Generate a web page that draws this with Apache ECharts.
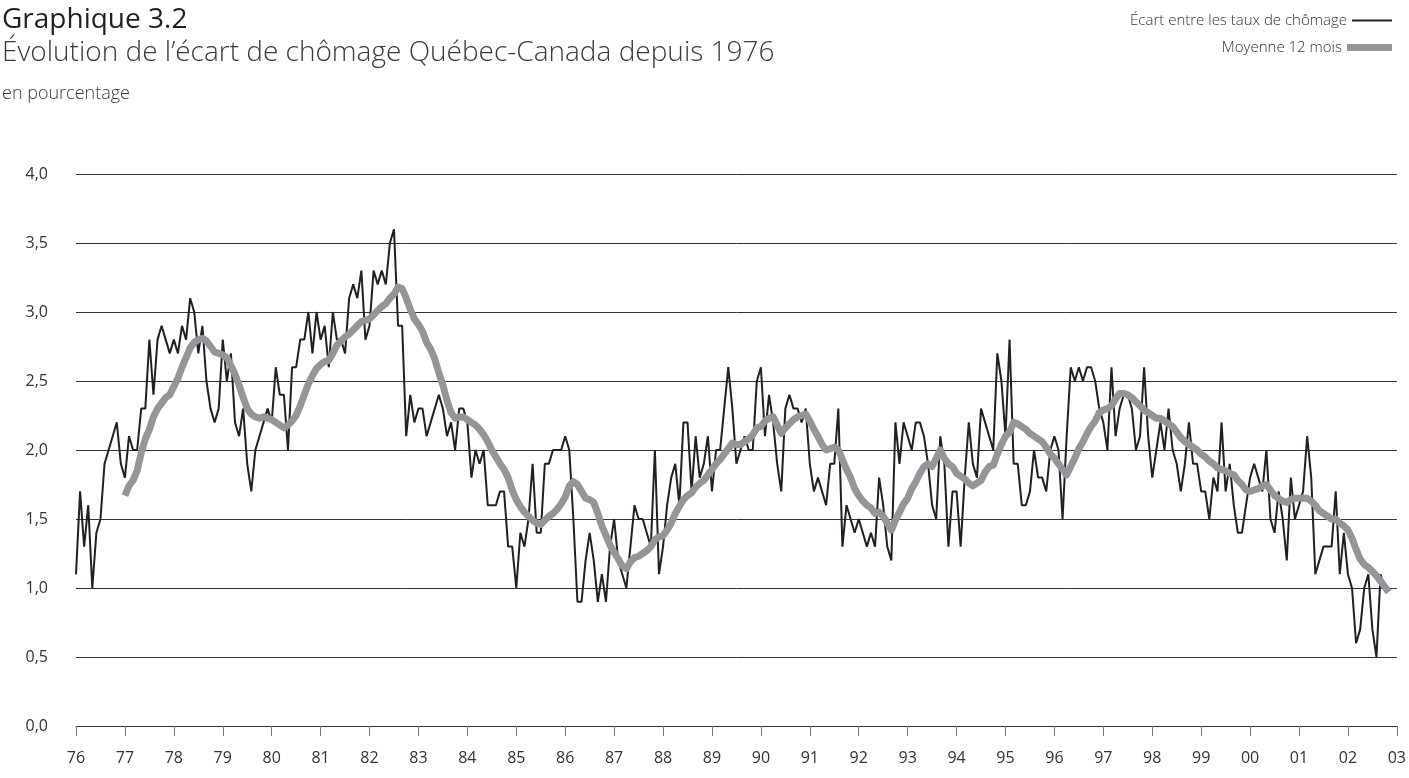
<!DOCTYPE html>
<html>
<head>
<meta charset="utf-8">
<title>Graphique 3.2</title>
<script src="https://cdn.jsdelivr.net/npm/echarts/dist/echarts.min.js"></script>
<style>
  html, body { margin: 0; padding: 0; background: #fff; }
  #chart { width: 1409px; height: 778px; }
</style>
</head>
<body>
<div id="chart"></div>
<script>
// first year of the monthly series, axis runs from Jan 1976 to Jan 2003
const startYear = 1976
const monthCount = 324
const yTicks = [0, 0.5, 1, 1.5, 2, 2.5, 3, 3.5, 4]

// écart de chômage Québec-Canada, monthly, Jan 1976 -> Oct 2002
const ecart = [
  1.1, 1.7, 1.3, 1.6, 1.0, 1.4, 1.5, 1.9, 2.0, 2.1, 2.2, 1.9, // 76
  1.8, 2.1, 2.0, 2.0, 2.3, 2.3, 2.8, 2.4, 2.8, 2.9, 2.8, 2.7, // 77
  2.8, 2.7, 2.9, 2.8, 3.1, 3.0, 2.7, 2.9, 2.5, 2.3, 2.2, 2.3, // 78
  2.8, 2.5, 2.7, 2.2, 2.1, 2.3, 1.9, 1.7, 2.0, 2.1, 2.2, 2.3, // 79
  2.2, 2.6, 2.4, 2.4, 2.0, 2.6, 2.6, 2.8, 2.8, 3.0, 2.7, 3.0, // 80
  2.8, 2.9, 2.6, 3.0, 2.8, 2.8, 2.7, 3.1, 3.2, 3.1, 3.3, 2.8, // 81
  2.9, 3.3, 3.2, 3.3, 3.2, 3.5, 3.6, 2.9, 2.9, 2.1, 2.4, 2.2, // 82
  2.3, 2.3, 2.1, 2.2, 2.3, 2.4, 2.3, 2.1, 2.2, 2.0, 2.3, 2.3, // 83
  2.2, 1.8, 2.0, 1.9, 2.0, 1.6, 1.6, 1.6, 1.7, 1.7, 1.3, 1.3, // 84
  1.0, 1.4, 1.3, 1.5, 1.9, 1.4, 1.4, 1.9, 1.9, 2.0, 2.0, 2.0, // 85
  2.1, 2.0, 1.5, 0.9, 0.9, 1.2, 1.4, 1.2, 0.9, 1.1, 0.9, 1.3, // 86
  1.5, 1.2, 1.1, 1.0, 1.3, 1.6, 1.5, 1.5, 1.4, 1.3, 2.0, 1.1, // 87
  1.3, 1.6, 1.8, 1.9, 1.6, 2.2, 2.2, 1.7, 2.1, 1.8, 1.9, 2.1, // 88
  1.7, 2.0, 2.0, 2.3, 2.6, 2.3, 1.9, 2.0, 2.1, 2.0, 2.0, 2.5, // 89
  2.6, 2.1, 2.4, 2.2, 1.9, 1.7, 2.3, 2.4, 2.3, 2.3, 2.2, 2.3, // 90
  1.9, 1.7, 1.8, 1.7, 1.6, 1.9, 1.9, 2.3, 1.3, 1.6, 1.5, 1.4, // 91
  1.5, 1.4, 1.3, 1.4, 1.3, 1.8, 1.6, 1.3, 1.2, 2.2, 1.9, 2.2, // 92
  2.1, 2.0, 2.2, 2.2, 2.1, 1.9, 1.6, 1.5, 2.1, 1.9, 1.3, 1.7, // 93
  1.7, 1.3, 1.8, 2.2, 1.9, 1.8, 2.3, 2.2, 2.1, 2.0, 2.7, 2.5, // 94
  2.1, 2.8, 1.9, 1.9, 1.6, 1.6, 1.7, 2.0, 1.8, 1.8, 1.7, 2.0, // 95
  2.1, 2.0, 1.5, 2.1, 2.6, 2.5, 2.6, 2.5, 2.6, 2.6, 2.5, 2.3, // 96
  2.2, 2.0, 2.6, 2.1, 2.3, 2.4, 2.4, 2.3, 2.0, 2.1, 2.6, 2.1, // 97
  1.8, 2.0, 2.2, 2.0, 2.3, 2.0, 1.9, 1.7, 1.9, 2.2, 1.9, 1.9, // 98
  1.7, 1.7, 1.5, 1.8, 1.7, 2.2, 1.7, 1.9, 1.6, 1.4, 1.4, 1.6, // 99
  1.8, 1.9, 1.8, 1.7, 2.0, 1.5, 1.4, 1.7, 1.5, 1.2, 1.8, 1.5, // 00
  1.6, 1.7, 2.1, 1.8, 1.1, 1.2, 1.3, 1.3, 1.3, 1.7, 1.1, 1.4, // 01
  1.1, 1.0, 0.6, 0.7, 1.0, 1.1, 0.7, 0.5, 1.1, 1.0            // 02
]

// moyenne 12 mois, starts Jan 1977
const moyenneStart = 12
const moyenne = [
  1.67, 1.74, 1.78, 1.85, 1.98, 2.08, 2.15, 2.24, 2.30, 2.34, 2.38, 2.40, // 77
  2.46, 2.52, 2.60, 2.67, 2.74, 2.78, 2.80, 2.81, 2.79, 2.75, 2.71, 2.70, // 78
  2.69, 2.67, 2.61, 2.55, 2.47, 2.38, 2.30, 2.26, 2.24, 2.23, 2.24, 2.23, // 79
  2.22, 2.20, 2.18, 2.16, 2.18, 2.21, 2.25, 2.32, 2.40, 2.48, 2.54, 2.59, // 80
  2.62, 2.64, 2.65, 2.70, 2.76, 2.79, 2.82, 2.84, 2.87, 2.90, 2.93, 2.94, // 81
  2.95, 2.98, 3.01, 3.04, 3.06, 3.10, 3.13, 3.18, 3.17, 3.10, 3.02, 2.95, // 82
  2.91, 2.86, 2.78, 2.73, 2.66, 2.56, 2.47, 2.36, 2.27, 2.23, 2.24, 2.24, // 83
  2.22, 2.20, 2.18, 2.15, 2.11, 2.06, 2.00, 1.95, 1.90, 1.86, 1.80, 1.71, // 84
  1.64, 1.59, 1.55, 1.52, 1.49, 1.47, 1.46, 1.49, 1.52, 1.54, 1.57, 1.61, // 85
  1.66, 1.74, 1.77, 1.75, 1.70, 1.65, 1.64, 1.62, 1.54, 1.45, 1.38, 1.31, // 86
  1.26, 1.21, 1.16, 1.14, 1.19, 1.22, 1.23, 1.25, 1.27, 1.30, 1.35, 1.37, // 87
  1.38, 1.42, 1.47, 1.54, 1.59, 1.64, 1.67, 1.69, 1.73, 1.76, 1.78, 1.82, // 88
  1.86, 1.90, 1.93, 1.97, 2.01, 2.05, 2.04, 2.04, 2.06, 2.08, 2.11, 2.16, // 89
  2.17, 2.21, 2.23, 2.24, 2.18, 2.12, 2.16, 2.19, 2.22, 2.24, 2.25, 2.26, // 90
  2.21, 2.15, 2.10, 2.04, 2.00, 2.01, 2.02, 2.00, 1.93, 1.86, 1.80, 1.72, // 91
  1.67, 1.63, 1.60, 1.58, 1.54, 1.55, 1.52, 1.47, 1.42, 1.49, 1.55, 1.61, // 92
  1.65, 1.72, 1.77, 1.83, 1.88, 1.90, 1.88, 1.94, 2.00, 1.94, 1.90, 1.88, // 93
  1.83, 1.81, 1.79, 1.76, 1.74, 1.76, 1.78, 1.84, 1.88, 1.89, 1.97, 2.04, // 94
  2.10, 2.13, 2.20, 2.19, 2.17, 2.15, 2.12, 2.10, 2.08, 2.06, 2.02, 1.97, // 95
  1.94, 1.90, 1.86, 1.82, 1.88, 1.94, 2.01, 2.06, 2.12, 2.17, 2.21, 2.27, // 96
  2.29, 2.30, 2.32, 2.37, 2.41, 2.41, 2.40, 2.38, 2.35, 2.32, 2.29, 2.27, // 97
  2.25, 2.23, 2.23, 2.21, 2.19, 2.17, 2.13, 2.09, 2.06, 2.04, 2.02, 2.00, // 98
  1.97, 1.95, 1.92, 1.90, 1.87, 1.86, 1.85, 1.83, 1.82, 1.78, 1.75, 1.71, // 99
  1.70, 1.71, 1.72, 1.74, 1.75, 1.71, 1.67, 1.65, 1.63, 1.62, 1.64, 1.65, // 00
  1.65, 1.65, 1.65, 1.63, 1.60, 1.56, 1.54, 1.52, 1.50, 1.50, 1.47, 1.45, // 01
  1.42, 1.36, 1.28, 1.21, 1.17, 1.15, 1.12, 1.09, 1.05, 1.01, 0.97        // 02
]

const font = '"Open Sans", "Noto Sans", sans-serif'
const chart = echarts.init(document.getElementById('chart'), null, { renderer: 'canvas' })

chart.setOption({
  animation: false,
  backgroundColor: '#fff',
  textStyle: { fontFamily: font },
  title: [
    {
      text: 'Graphique 3.2',
      left: -3,
      top: 1,
      textStyle: { fontSize: 28, fontWeight: 'normal', color: '#231f20', fontFamily: font }
    },
    {
      text: 'Évolution de l’écart de chômage Québec-Canada depuis 1976',
      left: -3,
      top: 34,
      textStyle: { fontSize: 28, fontWeight: 300, color: '#3a3a3a', fontFamily: font }
    },
    {
      text: 'en pourcentage',
      left: -3,
      top: 80,
      textStyle: { fontSize: 18, fontWeight: 300, color: '#3a3a3a', fontFamily: font }
    }
  ],
  legend: [
    {
      data: ['Écart entre les taux de chômage'],
      right: 12,
      top: 8,
      align: 'right',
      icon: 'rect',
      itemWidth: 40,
      itemHeight: 2,
      textStyle: { fontSize: 15, color: '#333', fontWeight: 300 }
    },
    {
      data: ['Moyenne 12 mois'],
      right: 12,
      top: 35,
      align: 'right',
      icon: 'rect',
      itemWidth: 45,
      itemHeight: 7,
      textStyle: { fontSize: 15, color: '#333', fontWeight: 300 }
    }
  ],
  grid: {
    left: 76,
    right: 9,
    top: 174,
    bottom: 52,
    containLabel: false
  },
  xAxis: {
    type: 'value',
    min: 0,
    max: monthCount,
    interval: 12,
    axisLine: { show: true, lineStyle: { color: '#333', width: 1 } },
    axisTick: { show: true, length: 10, lineStyle: { color: '#777' } },
    axisLabel: {
      margin: 24,
      fontSize: 16,
      color: '#333',
      formatter: v => String((startYear + v / 12) % 100).padStart(2, '0')
    },
    splitLine: { show: false }
  },
  yAxis: {
    type: 'value',
    min: yTicks[0],
    max: yTicks[yTicks.length - 1],
    interval: 0.5,
    axisLine: { show: false },
    axisTick: { show: false },
    axisLabel: {
      margin: 28,
      fontSize: 16,
      color: '#333',
      formatter: v => v.toFixed(1).replace('.', ',')
    },
    splitLine: { lineStyle: { color: '#333', width: 1 } }
  },
  series: [
    {
      name: 'Écart entre les taux de chômage',
      type: 'line',
      data: ecart.map((v, i) => [i, v]),
      showSymbol: false,
      color: '#231f20',
      lineStyle: { color: '#231f20', width: 2 },
      z: 2
    },
    {
      name: 'Moyenne 12 mois',
      type: 'line',
      data: moyenne.map((v, i) => [i + moyenneStart, v]),
      showSymbol: false,
      color: '#939598',
      lineStyle: { color: '#939598', width: 7, cap: 'butt', join: 'round' },
      z: 3
    }
  ]
})
</script>
</body>
</html>
